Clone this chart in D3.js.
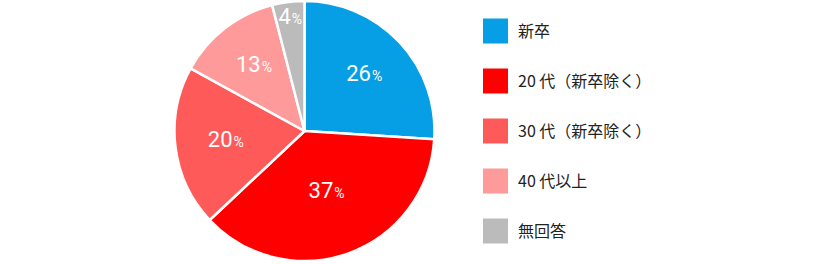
<!DOCTYPE html>
<html><head><meta charset="utf-8">
<script src="https://cdn.jsdelivr.net/npm/d3@7"></script>
<style>
html,body{margin:0;padding:0;background:#fff;}
svg{display:block;}
</style></head>
<body>
<svg id="chart" width="820" height="264"></svg>
<script>
const categories = ["新卒", "20 代（新卒除く）", "30 代（新卒除く）", "40 代以上", "無回答"];
const values = [26, 37, 20, 13, 4];
const colors = ["#069ee4", "#ff0000", "#ff5a5a", "#ff9a9a", "#bbbbbb"];
const labelRadiusFrac = [0.63, 0.5, 0.61, 0.635, 0.875];

const svg = d3.select("#chart");
const cx = 304.5, cy = 131, R = 130;
const g = svg.append("g").attr("transform", `translate(${cx},${cy})`);

const pie = d3.pie().value(d => d).sort(null);
const arcs = pie(values);
const arc = d3.arc().innerRadius(0).outerRadius(R);

g.selectAll("path").data(arcs).join("path")
  .attr("d", arc)
  .attr("fill", (d, i) => colors[i])
  .attr("stroke", "#fff")
  .attr("stroke-width", 2.5)
  .attr("stroke-linejoin", "round");

const lbl = g.selectAll("text.lbl").data(arcs).join("text")
  .attr("class", "lbl")
  .attr("transform", (d, i) => {
    const a = (d.startAngle + d.endAngle) / 2;
    const r = R * labelRadiusFrac[i];
    return `translate(${Math.sin(a) * r},${-Math.cos(a) * r})`;
  })
  .attr("text-anchor", "middle")
  .attr("dy", "0.36em")
  .attr("fill", "#fff")
  .style("font-family", "Roboto, sans-serif")
  .style("font-weight", "400");
lbl.append("tspan").style("font-size", "22px").text(d => d.data);
lbl.append("tspan").attr("dx", 1).style("font-size", "14px").text("%");

const legend = svg.append("g");
const ly = d3.scalePoint().domain(categories).range([31, 231]);
const items = legend.selectAll("g").data(categories).join("g")
  .attr("transform", d => `translate(483,${ly(d)})`);
items.append("rect").attr("x", 0).attr("y", -12.5).attr("width", 25).attr("height", 25)
  .attr("fill", (d, i) => colors[i]);
items.append("text").attr("x", 35).attr("dy", "0.35em")
  .attr("fill", "#222")
  .style("font-family", "'Noto Sans CJK JP', sans-serif")
  .style("font-size", "16px")
  .text(d => d);
</script>
</body></html>
